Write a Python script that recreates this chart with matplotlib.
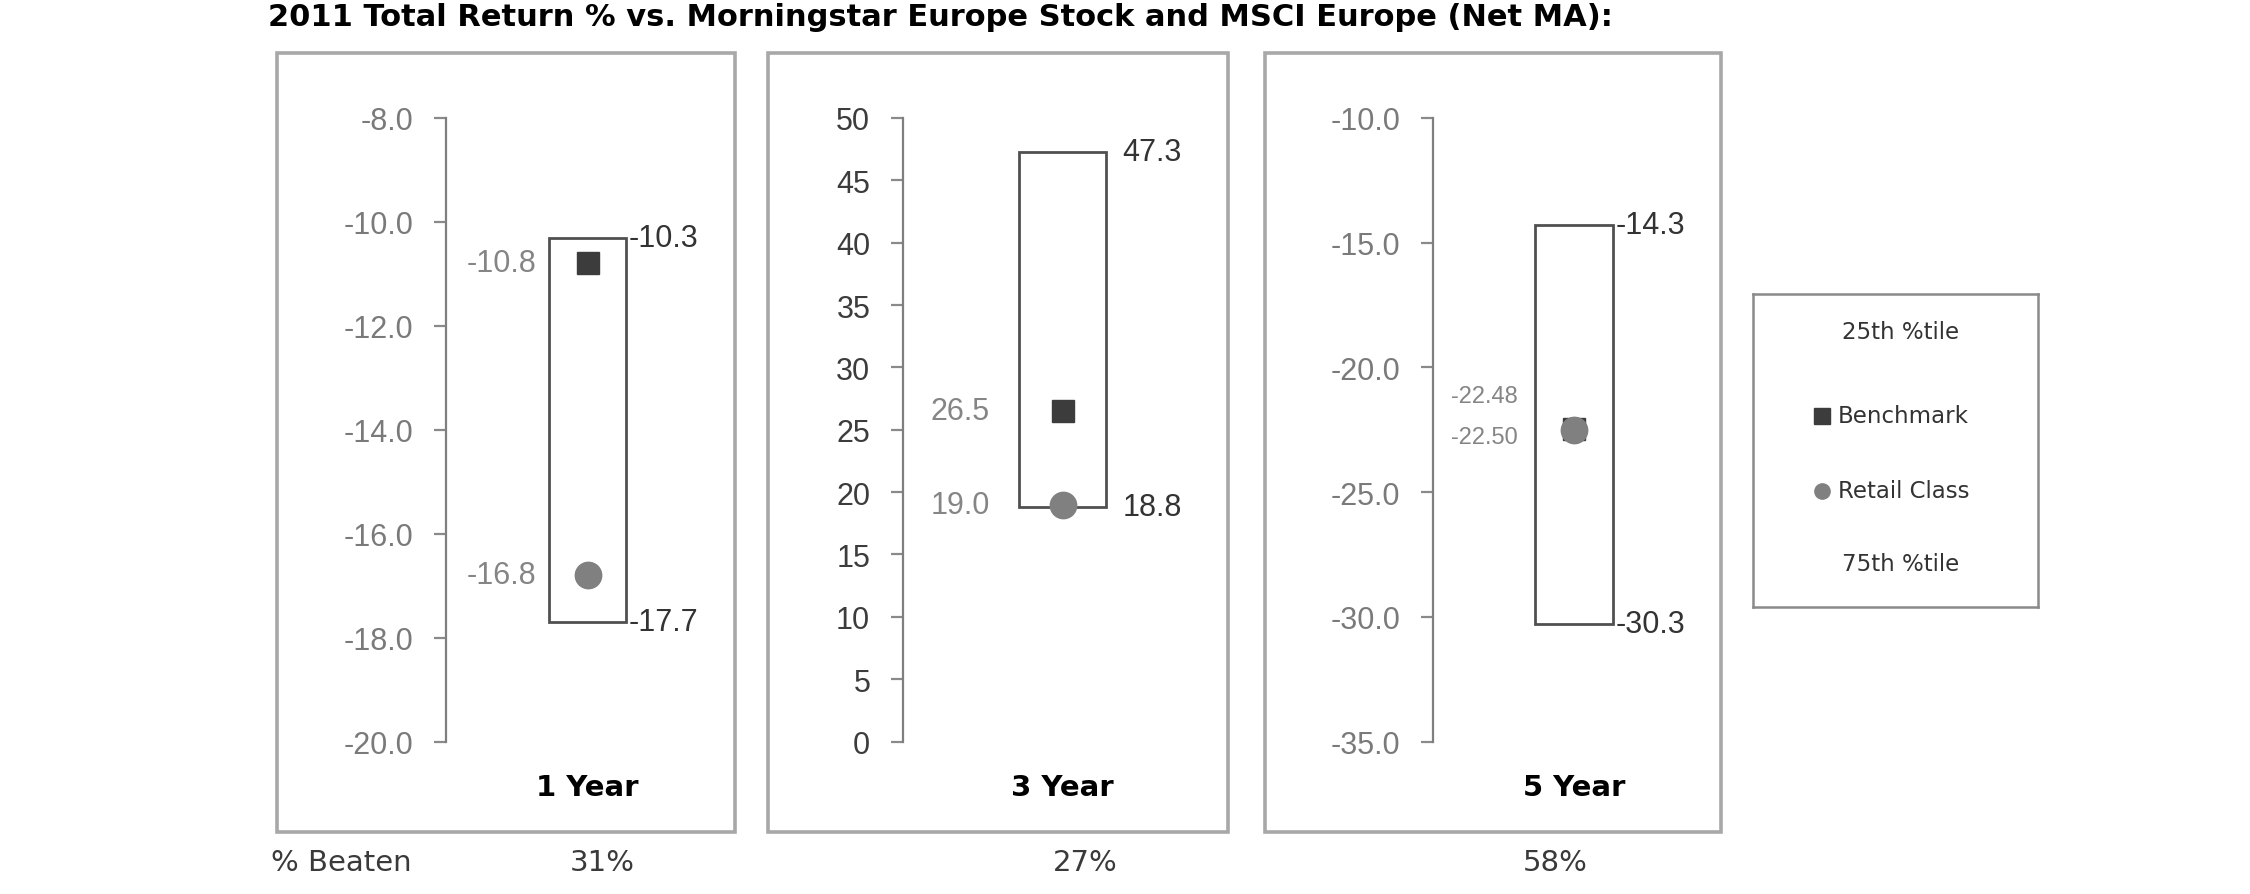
import numpy as np
import matplotlib
matplotlib.use('Agg')
import matplotlib.pyplot as plt
from matplotlib.patches import Rectangle

# data
periods = ['1 Year', '3 Year', '5 Year']
pct25 = [-10.3, 47.3, -14.3]
pct75 = [-17.7, 18.8, -30.3]
benchmark = [-10.8, 26.5, -22.48]
retail = [-16.8, 19.0, -22.50]
beaten = ['31%', '27%', '58%']
ylims = [(-20, -8), (0, 50), (-35, -10)]
ysteps = [2, 5, 5]
yfmts = ['%.1f', '%d', '%.1f']
small_labels = [False, False, True]

W, H = 2250, 895
fig = plt.figure(figsize=(W / 100, H / 100), dpi=100)

def fx(px):
    return px / W

def fy(py):
    return 1 - py / H

# layout (pixels in the 2250x895 picture)
frames = [(277, 735), (768, 1228), (1265, 1721)]
axis_x = [446, 903, 1433]
left_gap = [12, 29, 17]      # px between box and left labels
right_gap = [2, 16, 3]
tick_colors = ['#7a7a7a', '#3c3c3c', '#7a7a7a']
bench_nudge = [0, 0, -33]
retail_nudge = [0, 0, 7]
y_top, y_bot = 119, 742.5

fig.text(fx(268), fy(17), '2011 Total Return % vs. Morningstar Europe Stock and MSCI Europe (Net MA):',
         fontsize=22, fontweight='bold', family='DejaVu Sans', va='center', ha='left', color='black')

for i in range(3):
    fl, fr = frames[i]
    fig.patches.append(Rectangle((fx(fl), fy(833)), fx(fr - fl), (833 - 54) / H,
                                 transform=fig.transFigure, fill=False,
                                 edgecolor='#a8a8a8', linewidth=2.6, zorder=0))

    ax = fig.add_axes([fx(axis_x[i]), fy(y_bot), fx(fr - axis_x[i] - 6), (y_bot - y_top) / H])
    ax.set_facecolor('none')
    lo, hi = ylims[i]
    ax.set_ylim(lo, hi)
    ax.set_xlim(-1, 1)
    ticks = np.arange(lo, hi + 0.001, ysteps[i])
    ax.set_yticks(ticks)
    ax.set_yticklabels([yfmts[i] % t for t in ticks], family='Liberation Sans',
                       fontsize=22, color=tick_colors[i])
    ax.tick_params(axis='y', direction='out', length=8.6, width=1.6, color='#8a8a8a', pad=15)
    ax.set_xticks([])
    for s in ['top', 'right', 'bottom']:
        ax.spines[s].set_visible(False)
    ax.spines['left'].set_color('#7f7f7f')
    ax.spines['left'].set_linewidth(1.6)

    bw = 0.55
    ax.bar(0, pct25[i] - pct75[i], bottom=pct75[i], width=bw, facecolor='white',
           edgecolor='#505050', linewidth=2.0, zorder=2)
    ax.plot(0, benchmark[i], marker='s', markersize=15.5, color='#3c3c3c',
            linestyle='none', zorder=3, clip_on=False)
    ax.plot(0, retail[i], marker='o', markersize=19, color='#808080',
            linestyle='none', zorder=4, clip_on=False)

    # percentile labels on the right of the box
    for v in (pct25[i], pct75[i]):
        ax.annotate('%.1f' % v, xy=(bw / 2, v), xytext=(right_gap[i] * 0.72, 0),
                    textcoords='offset points', ha='left', va='center',
                    family='Liberation Sans', fontsize=22, color='#333333')

    # benchmark / retail labels on the left
    fs = 17 if small_labels[i] else 22
    fmt = '%.2f' if small_labels[i] else '%.1f'
    ax.annotate(fmt % benchmark[i], xy=(-bw / 2, benchmark[i]),
                xytext=(-left_gap[i] * 0.72, -bench_nudge[i] * 0.72),
                textcoords='offset points', ha='right', va='center',
                family='Liberation Sans', fontsize=fs, color='#858585')
    ax.annotate(fmt % retail[i], xy=(-bw / 2, retail[i]),
                xytext=(-left_gap[i] * 0.72, -retail_nudge[i] * 0.72),
                textcoords='offset points', ha='right', va='center',
                family='Liberation Sans', fontsize=fs, color='#858585')

    ax.annotate(periods[i], xy=(0, fy(788)), xycoords=('data', 'figure fraction'),
                ha='center', va='center', fontsize=21, fontweight='bold',
                family='DejaVu Sans', color='black')

# % Beaten row
fig.text(fx(271), fy(863), '% Beaten', fontsize=21, family='DejaVu Sans',
         color='#3a3a3a', ha='left', va='center')
for xpos, txt in zip([602, 1085, 1555], beaten):
    fig.text(fx(xpos), fy(863), txt, fontsize=21, family='DejaVu Sans',
             color='#3a3a3a', ha='center', va='center')

# legend box
lg = fig.add_axes([fx(1753), fy(608), fx(2038 - 1753), (608 - 295) / H])
lg.set_xlim(1753, 2038)
lg.set_ylim(608, 295)
lg.set_xticks([])
lg.set_yticks([])
for s in lg.spines.values():
    s.set_color('#8a8a8a')
    s.set_linewidth(1.8)
lg.text(1901, 333, '25th %tile', ha='center', va='center', fontsize=16.5,
        family='DejaVu Sans', color='#333333')
lg.plot(1822, 417, marker='s', markersize=11, color='#3c3c3c', linestyle='none')
lg.text(1838, 417, 'Benchmark', ha='left', va='center', fontsize=16.5,
        family='DejaVu Sans', color='#333333')
lg.plot(1822, 492, marker='o', markersize=11, color='#808080', linestyle='none')
lg.text(1838, 492, 'Retail Class', ha='left', va='center', fontsize=16.5,
        family='DejaVu Sans', color='#333333')
lg.text(1901, 565, '75th %tile', ha='center', va='center', fontsize=16.5,
        family='DejaVu Sans', color='#333333')

fig.savefig('out.png', dpi=100)
